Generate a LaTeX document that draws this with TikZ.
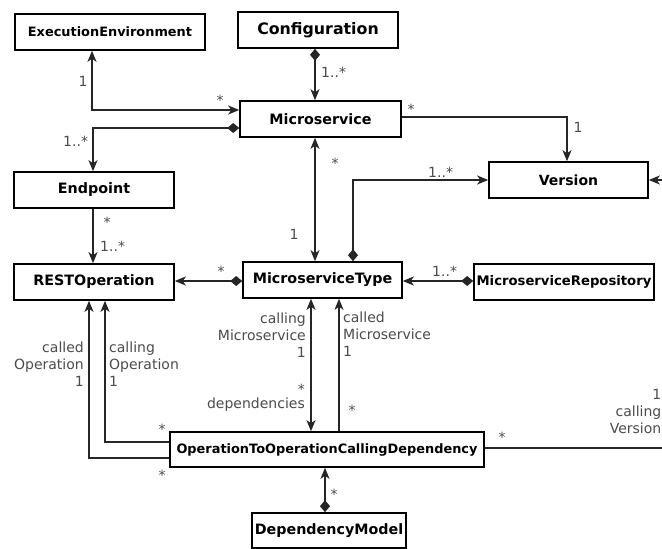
\documentclass[tikz,border=0pt]{standalone}
\usepackage{fontspec}
\setmainfont{DejaVu Sans}
\usetikzlibrary{arrows.meta}
\begin{document}
\begin{tikzpicture}[x=1pt,y=-1pt,
  >={Stealth[length=11pt,width=9pt,inset=3pt]},
  cls/.style={draw=black, line width=1.6pt, fill=white, inner sep=0pt,
    minimum height=36pt, font=\bfseries\fontsize{14.3}{17}\selectfont},
  assoc/.style={draw=black!85, line width=1.3pt},
  nav/.style={assoc, ->},
  bidir/.style={assoc, <->},
  owns/.style={assoc, arrows={Diamond[length=12pt,width=10pt]-Stealth[length=11pt,width=9pt,inset=3pt]}},
  lbl/.style={inner sep=0pt, text=black!70, font=\fontsize{14}{17}\selectfont},
  mult/.style={lbl, anchor=base},
]
\useasboundingbox[fill=white] (0,0) rectangle (662,549);
\begin{scope}
\clip (0,0) rectangle (662,549);

% classes
\node[cls, minimum width=190pt, font=\bfseries\fontsize{12.9}{15}\selectfont] (ee) at (110,32) {ExecutionEnvironment};
\node[cls, minimum width=160pt, font=\bfseries\fontsize{15.8}{18}\selectfont] (cfg) at (318,30) {Configuration};
\node[cls, minimum width=161pt] (ms) at (320.5,119) {Microservice};
\node[cls, minimum width=159pt, font=\bfseries\fontsize{14}{17}\selectfont] (ver) at (568.5,180) {Version};
\node[cls, minimum width=160pt] (ep) at (94,190) {Endpoint};
\node[cls, minimum width=160pt] (rest) at (94,282) {RESTOperation};
\node[cls, minimum width=159pt] (mst) at (322.5,280) {MicroserviceType};
\node[cls, minimum width=180pt, font=\bfseries\fontsize{13.2}{16}\selectfont] (repo) at (564,282) {MicroserviceRepository};
\node[cls, minimum width=314pt, minimum height=35pt, font=\bfseries\fontsize{12.9}{15}\selectfont] (otocd) at (327,449.5) {OperationToOperationCallingDependency};
\node[cls, minimum width=154pt, minimum height=35pt] (dm) at (329,530.5) {DependencyModel};

% associations
\draw[bidir] (ee.south -| 92,0) |- (ms.west |- 0,110);
\draw[owns] (ms.west |- 0,128) -| (ep.north -| 93,0);
\draw[owns] (cfg.south -| 315,0) -- (ms.north -| 315,0);
\draw[nav] (ms.east |- 0,117) -| (ver.north -| 567,0);
\draw[bidir] (ms.south -| 315,0) -- (mst.north -| 315,0);
\draw[owns] (mst.north -| 353,0) |- (ver.west |- 0,180);
\draw[owns] (mst.west |- 0,281) -- (rest.east |- 0,281);
\draw[owns] (repo.west |- 0,281) -- (mst.east |- 0,281);
\draw[nav] (ep.south -| 93,0) -- (rest.north -| 93,0);
\draw[nav] (otocd.west |- 0,458) -| (rest.south -| 89,0);
\draw[nav] (otocd.west |- 0,442) -| (rest.south -| 105,0);
\draw[bidir] (mst.south -| 311,0) -- (otocd.north -| 311,0);
\draw[nav] (otocd.north -| 339,0) -- (mst.south -| 339,0);
\coordinate (verroute) at (690,448);
\draw[nav] (otocd.east |- 0,448) -- (verroute) |- (ver.east |- 0,180);
\draw[owns] (dm.north -| 325,0) -- (otocd.south -| 325,0);

% multiplicities and role names
\node[mult] (m1) at (83,86) {1};
\node[mult] (m2) at (220,105) {*};
\node[mult, anchor=base west] (m3) at (63,146) {1..*};
\node[mult, anchor=base west] (m4) at (321,77) {1..*};
\node[mult] (m5) at (411,114) {*};
\node[mult] (m6) at (578,132) {1};
\node[mult] (m7) at (335,168) {*};
\node[mult] (m8) at (294,239) {1};
\node[mult, anchor=base west] (m9) at (428,177) {1..*};
\node[mult] (m10) at (107,227) {*};
\node[mult, anchor=base west] (m11) at (100,251) {1..*};
\node[mult] (m12) at (221,276) {*};
\node[mult, anchor=base west] (m13) at (432,276) {1..*};
\node[lbl, anchor=base east] (r1) at (84,386)
  {\begin{tabular}[b]{@{}r@{}}called\\Operation\\1\end{tabular}};
\node[lbl, anchor=base west] (r2) at (109,386)
  {\begin{tabular}[b]{@{}l@{}}calling\\Operation\\1\end{tabular}};
\node[lbl, anchor=base east] (r3) at (306,357)
  {\begin{tabular}[b]{@{}r@{}}calling\\Microservice\\1\end{tabular}};
\node[mult, anchor=base east] (m19) at (305,394) {*};
\node[lbl, anchor=base east] (r4) at (305,408) {dependencies};
\node[lbl, anchor=base west] (r5) at (343,356)
  {\begin{tabular}[b]{@{}l@{}}called\\Microservice\\1\end{tabular}};
\node[mult] (m14) at (352,415) {*};
\node[mult] (m15) at (162,434) {*};
\node[mult] (m16) at (162,480) {*};
\node[mult] (m17) at (502,442) {*};
\node[lbl, anchor=base east] (r6) at (661.5,433)
  {\begin{tabular}[b]{@{}r@{}}1\\calling\\Version\end{tabular}};
\node[mult] (m18) at (334,499) {*};
\end{scope}
\end{tikzpicture}
\end{document}
